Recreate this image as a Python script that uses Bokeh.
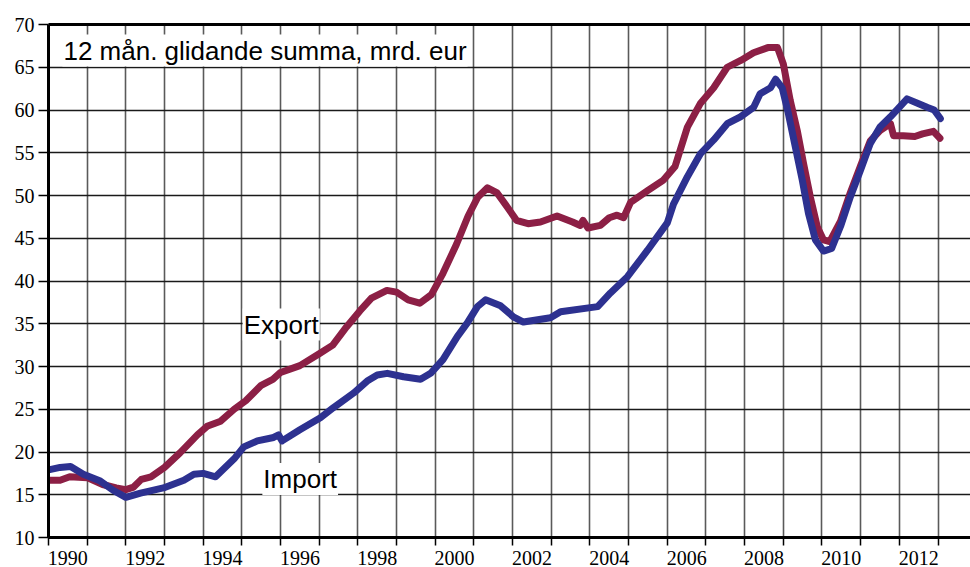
from bokeh.plotting import figure
from bokeh.models import FixedTicker, Label, LinearAxis, Range1d
from bokeh.embed import file_html
from bokeh.resources import INLINE

# ---- data ----
export_x = [1990.0, 1990.3, 1990.55, 1991.0, 1991.4, 1991.75, 1992.0, 1992.2, 1992.4, 1992.65,
            1993.0, 1993.4, 1993.85, 1994.1, 1994.45, 1994.8, 1995.1, 1995.5, 1995.8, 1996.0,
            1996.5, 1997.0, 1997.35, 1997.7, 1998.05, 1998.35, 1998.75, 1999.0, 1999.3, 1999.6,
            1999.9, 2000.2, 2000.55, 2000.85, 2001.1, 2001.35, 2001.6, 2001.87, 2002.1, 2002.4,
            2002.72, 2003.15, 2003.55, 2003.75, 2003.82, 2003.95, 2004.27, 2004.5, 2004.7, 2004.87,
            2005.05, 2005.5, 2005.9, 2006.2, 2006.52, 2006.86, 2007.2, 2007.55, 2007.9, 2008.23,
            2008.6, 2008.85, 2009.0, 2009.18, 2009.36, 2009.52, 2009.7, 2009.88, 2010.04, 2010.2,
            2010.48, 2010.73, 2011.0, 2011.25, 2011.5, 2011.77, 2011.85, 2012.1, 2012.4, 2012.6,
            2012.88, 2013.05]
export_v = [16.7, 16.7, 17.1, 17.0, 16.2, 15.8, 15.6, 15.9, 16.8, 17.1,
            18.2, 19.9, 22.0, 23.0, 23.6, 25.0, 26.0, 27.8, 28.5, 29.3,
            30.1, 31.5, 32.5, 34.6, 36.5, 38.0, 38.9, 38.7, 37.8, 37.4,
            38.4, 40.9, 44.3, 47.6, 49.8, 50.9, 50.3, 48.6, 47.1, 46.7,
            46.9, 47.6, 46.9, 46.5, 47.1, 46.2, 46.5, 47.4, 47.7, 47.4,
            49.2, 50.6, 51.8, 53.4, 58.0, 60.8, 62.6, 65.0, 65.8, 66.7,
            67.3, 67.3, 65.4, 61.1, 57.6, 53.8, 49.8, 46.3, 44.8, 44.6,
            47.0, 50.3, 53.5, 56.4, 57.6, 58.4, 57.0, 57.0, 56.9, 57.2,
            57.5, 56.7]

import_x = [1990.0, 1990.3, 1990.57, 1990.9, 1991.34, 1991.68, 1992.0, 1992.38, 1992.97, 1993.5,
            1993.76, 1994.0, 1994.32, 1994.8, 1995.05, 1995.4, 1995.82, 1995.95, 1996.04, 1996.5,
            1997.03, 1997.37, 1997.89, 1998.24, 1998.5, 1998.76, 1999.18, 1999.62, 1999.88, 2000.2,
            2000.57, 2000.83, 2001.09, 2001.3, 2001.69, 2002.02, 2002.28, 2002.98, 2003.24, 2004.2,
            2004.53, 2004.97, 2005.49, 2006.0, 2006.16, 2006.52, 2006.86, 2007.2, 2007.55, 2007.89,
            2008.23, 2008.4, 2008.67, 2008.8, 2008.97, 2009.13, 2009.31, 2009.49, 2009.65, 2009.83,
            2010.04, 2010.25, 2010.48, 2010.73, 2011.0, 2011.25, 2011.5, 2011.77, 2012.2, 2012.47,
            2012.73, 2012.9, 2013.06]
import_v = [17.9, 18.2, 18.3, 17.4, 16.6, 15.5, 14.7, 15.2, 15.8, 16.7,
            17.4, 17.5, 17.1, 19.2, 20.6, 21.3, 21.7, 22.0, 21.3, 22.6,
            24.0, 25.2, 26.9, 28.3, 29.0, 29.2, 28.8, 28.5, 29.2, 30.8,
            33.5, 35.1, 37.0, 37.8, 37.1, 35.8, 35.2, 35.7, 36.4, 37.0,
            38.6, 40.5, 43.6, 46.8, 49.0, 52.2, 54.9, 56.5, 58.4, 59.2,
            60.3, 61.9, 62.6, 63.6, 62.6, 59.6, 55.7, 51.8, 47.9, 44.8,
            43.5, 43.8, 46.4, 49.8, 53.0, 56.1, 58.0, 59.2, 61.3, 60.8,
            60.3, 60.0, 59.0]

years = list(range(1990, 2014))
label_years = list(range(1990, 2013, 2))
y_ticks = list(range(10, 75, 5))

title_text = "12 mån. glidande summa, mrd. eur"
export_label = "Export"
import_label = "Import"

EXPORT_COLOR = "#8C1F45"
IMPORT_COLOR = "#2D3190"

p = figure(width=970, height=567, output_backend="svg", toolbar_location=None,
           x_range=Range1d(1990.0, 2013.84), y_range=Range1d(10, 70),
           min_border_left=48, min_border_top=24, min_border_right=0, min_border_bottom=29,
           x_axis_location=None, y_axis_location=None)
p.outline_line_color = None
p.background_fill_color = "white"
p.border_fill_color = "white"

# grids
p.xgrid.ticker = FixedTicker(ticks=years[1:])
p.xgrid.grid_line_color = "#5a5a5a"
p.xgrid.grid_line_width = 1.6
p.ygrid.ticker = FixedTicker(ticks=y_ticks[1:-1])
p.ygrid.grid_line_color = "#1a1a1a"
p.ygrid.grid_line_width = 1.3

# left axis
yax = LinearAxis(ticker=FixedTicker(ticks=y_ticks))
yax.axis_line_width = 3
yax.axis_line_color = "black"
yax.major_tick_out = 10
yax.major_tick_in = 0
yax.major_tick_line_width = 1.5
yax.minor_tick_line_color = None
yax.major_label_text_font = "Liberation Serif"
yax.major_label_text_font_size = "20px"
yax.major_label_text_color = "black"
yax.major_label_standoff = 4
p.add_layout(yax, "left")

# bottom axis: minor ticks at year boundaries, labels centred in the year
xax = LinearAxis(ticker=FixedTicker(ticks=[y + 0.5 for y in label_years], minor_ticks=years))
xax.axis_line_width = 3
xax.axis_line_color = "black"
xax.major_tick_line_color = None
xax.major_tick_out = 0
xax.major_tick_in = 0
xax.minor_tick_out = 8
xax.minor_tick_in = 0
xax.minor_tick_line_width = 1.5
xax.minor_tick_line_color = "black"
xax.major_label_overrides = {y + 0.5: str(y) for y in label_years}
xax.major_label_text_font = "Liberation Serif"
xax.major_label_text_font_size = "20px"
xax.major_label_text_color = "black"
xax.major_label_standoff = 5
p.add_layout(xax, "below")

# top border
tax = LinearAxis(ticker=FixedTicker(ticks=[]))
tax.axis_line_width = 3
tax.axis_line_color = "black"
tax.major_tick_line_color = None
tax.minor_tick_line_color = None
p.add_layout(tax, "above")

# lines
p.line(export_x, export_v, line_width=7, color=EXPORT_COLOR, line_join="round", line_cap="round")
p.line(import_x, import_v, line_width=7, color=IMPORT_COLOR, line_join="round", line_cap="round")

# texts
p.add_layout(Label(x=1990.36, y=66.95, text=title_text, text_font="Liberation Sans",
                   text_font_size="26px", text_color="black", text_baseline="alphabetic",
                   background_fill_color="white", padding=1))
p.add_layout(Label(x=1995.02, y=34.9, text=export_label, text_font="Liberation Sans",
                   text_font_size="26px", text_color="black", text_baseline="alphabetic",
                   background_fill_color="white", padding=1))
p.add_layout(Label(x=1995.53, y=16.85, text=import_label, text_font="Liberation Sans",
                   text_font_size="26px", text_color="black", text_baseline="alphabetic",
                   background_fill_color="white", padding=1))

open("out.html", "w").write(file_html(p, INLINE))
